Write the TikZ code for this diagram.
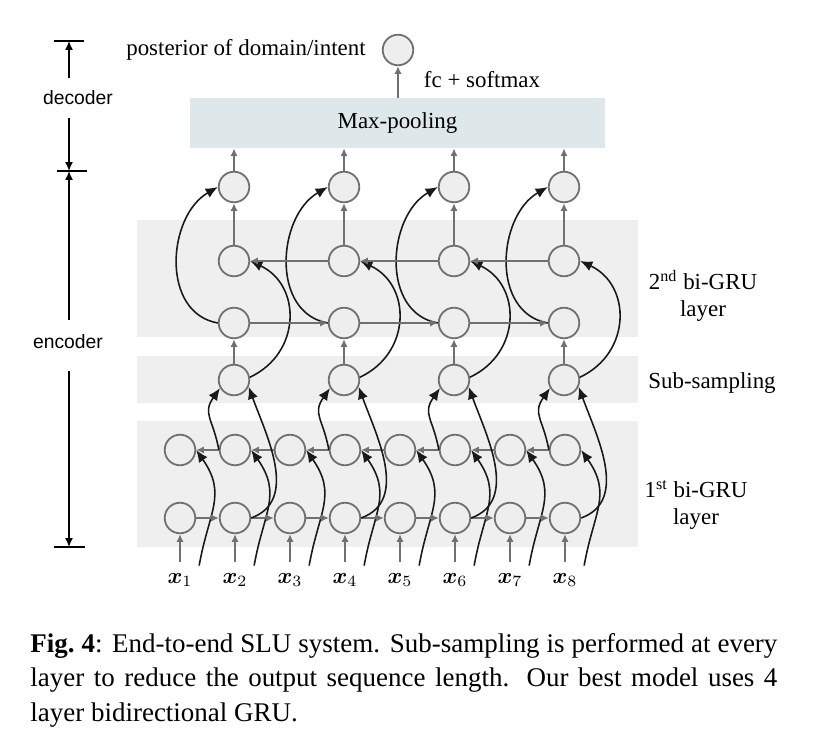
\documentclass[tikz,border=0pt]{standalone}
\usepackage{amsmath}
\usepackage{fontspec}
\setmainfont{Liberation Serif}
\newfontfamily\barfont{Liberation Sans}
\usepackage{tikz}
\usetikzlibrary{arrows.meta,positioning}
\definecolor{bandgray}{HTML}{EFEFEF}
\definecolor{poolblue}{HTML}{DEE7EA}
\definecolor{cellgray}{HTML}{EEEEEE}
\definecolor{edgegray}{HTML}{707070}
\tikzstyle{cell} = [circle, draw=edgegray, fill=cellgray, line width=0.8pt,
    minimum size=13.6pt, inner sep=0pt]
\tikzstyle{pool} = [rectangle, fill=poolblue, minimum width=184.7pt,
    minimum height=22.2pt, font=\fontsize{10.2}{12}\selectfont]
\tikzstyle{tag} = [align=center, inner sep=1pt, font=\fontsize{10.2}{12}\selectfont]
\tikzstyle{inp} = [inner sep=1pt]
\tikzstyle{barlab} = [inner xsep=1pt, inner ysep=5.5pt, font=\barfont\fontsize{8.6}{10}\selectfont]
\tikzstyle{figcap} = [anchor=north west, text width=332.4pt, align=justify,
    inner sep=0pt, font=\fontsize{12}{15.35}\selectfont]
\tikzstyle{line} = [draw=edgegray, line width=0.8pt, -{Latex[length=3.4pt,width=3.2pt]}]
\tikzstyle{curve} = [draw=black!90, line width=0.7pt, -{Latex[length=5.4pt,width=4.6pt]}]
\tikzstyle{bar} = [draw, line width=0.7pt, -{Latex[length=4pt,width=3.6pt]}]
\tikzstyle{tick} = [draw, line width=0.7pt]

\begin{document}
\begin{tikzpicture}[x=0.445pt, y=0.445pt]
      \useasboundingbox (0,0) rectangle (820,732);
      \fill [bandgray] (137,395) rectangle (638,512);
      \fill [bandgray] (137,329) rectangle (638,376);
      \fill [bandgray] (137,185) rectangle (638,311);

      \foreach \i in {1,...,8} {
         \node [cell] (lf\i) at (125+55*\i, 214) {};
         \node [cell] (lb\i) at (125+55*\i, 282) {};
         \node [inp] (x\i) at (125+55*\i, 152) {$\boldsymbol{x}_{\i}$};
      }
      \foreach \j in {1,...,4} {
         \node [cell] (ss\j) at (124+110*\j, 352) {};
         \node [cell] (uf\j) at (124+110*\j, 409) {};
         \node [cell] (ub\j) at (124+110*\j, 471) {};
         \node [cell] (hid\j) at (124+110*\j, 545) {};
      }
      \node [pool] (pool) at (397.5, 609) {Max-pooling};
      \node [cell] (post) at (398, 682) {};
      \node [tag, left=6pt of post] (postlab) {posterior of domain/intent};
      \node [tag] (fclab) at (482, 652) {fc + softmax};
      \node [tag] (l2lab) at (703, 436) {2\textsuperscript{nd} bi-GRU\\layer};
      \node [tag] (sslab) at (712, 349) {Sub-sampling};
      \node [tag] (l1lab) at (696, 227) {1\textsuperscript{st} bi-GRU\\layer};

      \coordinate (dtop) at (69, 691);
      \coordinate (dmid) at (69, 561);
      \coordinate (ebot) at (69, 185);
      \node [barlab] (dec) at (78, 634) {decoder};
      \node [barlab] (enc) at (68, 390) {encoder};
      \path [bar] (dec.north -| dtop) -- (dtop);
      \path [bar] (dec.south -| dmid) -- (dmid);
      \path [bar] ([yshift=1pt]enc.north -| dmid) -- (dmid);
      \path [bar] ([yshift=-4pt]enc.south -| ebot) -- (ebot);
      \path [tick] (dtop) ++(-15,0) -- ++(30,0);
      \path [tick] (dmid) ++(-12,0) -- ++(30,0);
      \path [tick] (ebot) ++(-15,0) -- ++(31,0);

      \foreach \i in {1,...,8} {
         \path [line] ([yshift=4pt]x\i.north) -- (lf\i);
         \path [curve] ([shift={(4,5)}]x\i.north east)
            to[out=80, in=-55, looseness=1.2] (lb\i.east);
      }
      \foreach \i [count=\n from 2] in {1,...,7} {
         \path [line] (lf\i) -- (lf\n);
         \path [line] (lb\n) -- (lb\i);
      }
      \foreach \j [evaluate=\j as \i using int(2*\j)] in {1,...,4} {
         \path [curve] (lf\i.east) to[out=20, in=-70] (ss\j.-25);
         \path [curve] (lb\i.west) to[out=100, in=-125, looseness=1.3] (ss\j.-150);
         \path [line] (ss\j) -- (uf\j);
         \path [curve] (ss\j.10) to[out=25, in=-25, looseness=1.25] (ub\j.east);
         \path [curve] (uf\j.west) to[out=170, in=-150, looseness=1.1] (hid\j.west);
         \path [line] (ub\j) -- (hid\j);
         \path [line] (hid\j) -- (hid\j |- pool.south);
      }
      \foreach \i [count=\n from 2] in {1,...,3} {
         \path [line] (uf\i) -- (uf\n);
         \path [line] (ub\n) -- (ub\i);
      }
      \path [line] (pool.north -| post) -- (post);

      \node [figcap] (cap) at (30, 99) {\textbf{Fig.\ 4}: End-to-end SLU system.
         Sub-sampling is performed at every\linebreak layer to reduce the output
         sequence length.  Our best model uses 4\linebreak layer bidirectional GRU.};
\end{tikzpicture}
\end{document}
